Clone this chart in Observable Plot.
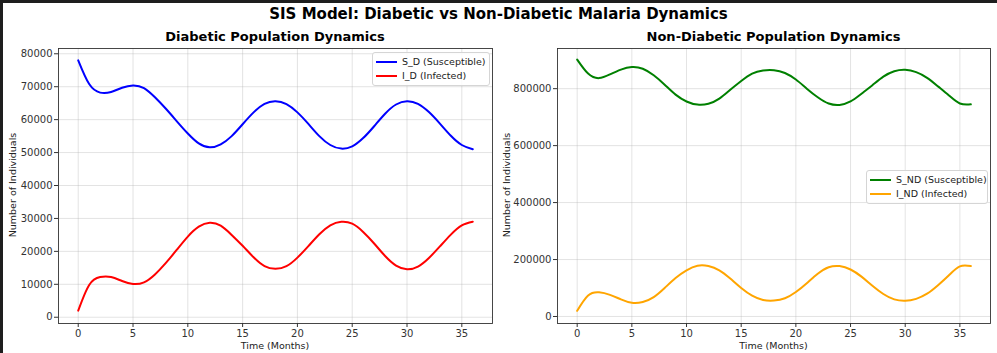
<!DOCTYPE html>
<html><head><meta charset="utf-8">
<script src="https://cdn.jsdelivr.net/npm/d3@7"></script>
<script src="https://cdn.jsdelivr.net/npm/@observablehq/plot@0.6"></script>
<style>
body{margin:0;background:#fff;font-family:"DejaVu Sans",sans-serif;}
#root{position:relative;width:997px;height:353px;overflow:hidden;background:#fff}
.abs{position:absolute;white-space:nowrap}
.suptitle{font-weight:bold;font-size:15px;color:#000;left:0;width:997px;text-align:center;top:5px}
.subtitle{font-weight:bold;font-size:13px;color:#000;text-align:center;top:29px}
.xlab{font-size:9.5px;color:#222;text-align:center;top:340px}
.ylab{font-size:9.5px;color:#222;transform:translate(-50%,-50%) rotate(-90deg)}
.legend{border:1px solid #d5d5d5;border-radius:3px;background:rgba(255,255,255,0.85);font-size:9.5px;color:#222}
.item{position:absolute;height:12px;line-height:12px}
.sw{position:absolute;height:2px;top:5px}
.plotbox{position:absolute;top:25px}
</style></head><body><div id="root"></div>
<script>
const months = [0,1,2,3,4,5,6,7,8,9,10,11,12,13,14,15,16,17,18,19,20,21,22,23,24,25,26,27,28,29,30,31,32,33,34,35,36];
const sD = [78000,70800,68200,68400,69700,70400,69600,66800,63300,59500,55800,52800,51600,52500,55000,58600,62200,64800,65600,64700,62200,58700,55000,52300,51200,51900,54400,58000,61800,64600,65600,64800,62300,58800,55100,52300,51000];
const iD = [2000,9800,12200,12200,11000,10100,10600,13000,16500,20500,24500,27500,28700,27800,25000,21700,18200,15500,14700,15500,18100,21600,25200,27900,29000,28400,25900,22400,18600,15700,14600,15400,18000,21500,25100,27900,29000];
const sND = [902000,853000,837000,850000,867000,876000,870000,847000,814000,779000,755000,744000,747000,765000,796000,827000,853000,864000,865000,855000,832000,800000,770000,748000,743000,755000,782000,812000,842000,861000,866000,858000,838000,808000,776000,748000,745000];
const iND = [20000,74000,85000,76000,60000,48000,51000,68000,100000,135000,162000,178000,177000,162000,133000,100000,73000,58000,56000,64000,86000,117000,150000,173000,177000,165000,140000,108000,79000,60000,55000,62000,80000,110000,145000,176000,177000];
const xTicks = [0,5,10,15,20,25,30,35];
const yTicksD = [0,10000,20000,30000,40000,50000,60000,70000,80000];
const yTicksND = [0,200000,400000,600000,800000];
const suptitle = "SIS Model: Diabetic vs Non-Diabetic Malaria Dynamics";
const titles = ["Diabetic Population Dynamics","Non-Diabetic Population Dynamics"];
const xLabel = "Time (Months)";
const yLabel = "Number of Individuals";
const legendD = ["S_D (Susceptible)","I_D (Infected)"];
const legendND = ["S_ND (Susceptible)","I_ND (Infected)"];

const root = document.getElementById("root");
function addDiv(cls, text, style){
  const d = document.createElement("div");
  d.className = "abs " + cls;
  if (text != null) d.textContent = text;
  Object.assign(d.style, style || {});
  root.appendChild(d);
  return d;
}

function panel(s, i, colors, yDomain, yTicks, left, width, mL, mR){
  const data = months.map((t,k)=>({t, v:s[k]}));
  const data2 = months.map((t,k)=>({t, v:i[k]}));
  const svg = Plot.plot({
    width, height:328,
    marginLeft:mL, marginRight:mR, marginTop:23, marginBottom:30,
    style:{fontFamily:"DejaVu Sans, sans-serif", fontSize:"10px", color:"#333", background:"transparent", overflow:"visible"},
    x:{domain:[-1.8,37.8]},
    y:{domain:yDomain},
    marks:[
      Plot.gridX(xTicks,{stroke:"#b0b0b0", strokeOpacity:0.35}),
      Plot.gridY(yTicks,{stroke:"#b0b0b0", strokeOpacity:0.35}),
      Plot.axisX(xTicks,{tickSize:4, tickPadding:2, label:null, stroke:"#333", fill:"#333"}),
      Plot.axisY(yTicks,{tickSize:4, tickPadding:2, label:null, tickFormat:d=>String(d), stroke:"#333", fill:"#333"}),
      Plot.line(data,{x:"t", y:"v", stroke:colors[0], strokeWidth:2, curve:"natural"}),
      Plot.line(data2,{x:"t", y:"v", stroke:colors[1], strokeWidth:2, curve:"natural"}),
      Plot.frame({stroke:"#333", strokeWidth:0.9})
    ]
  });
  const box = document.createElement("div");
  box.className = "plotbox";
  box.style.left = left + "px";
  box.appendChild(svg);
  root.appendChild(box);
}

panel(sD, iD, ["#0000ff","#ff0000"], [-1900,81600], yTicksD, 0, 497, 58, 5);
panel(sND, iND, ["#008000","#ffa500"], [-24600,941000], yTicksND, 497, 500, 60, 7);

addDiv("suptitle", suptitle);
addDiv("subtitle", titles[0], {left:"58px", width:"434px"});
addDiv("subtitle", titles[1], {left:"557px", width:"433px"});
addDiv("xlab", xLabel, {left:"58px", width:"434px"});
addDiv("xlab", xLabel, {left:"557px", width:"433px"});
addDiv("ylab", yLabel, {left:"12px", top:"185px"});
addDiv("ylab", yLabel, {left:"506px", top:"185px"});

function legend(items, colors, left, top, w){
  const lg = addDiv("legend", null, {left:left+"px", top:top+"px", width:w+"px", height:"32px"});
  items.forEach((txt,k)=>{
    const it = document.createElement("div");
    it.className = "item";
    it.style.top = (3 + k*14) + "px";
    it.style.left = "0px";
    const sw = document.createElement("div");
    sw.className = "sw";
    sw.style.left = "3px"; sw.style.width = "21px"; sw.style.background = colors[k];
    const tx = document.createElement("span");
    tx.style.position = "absolute"; tx.style.left = "29px"; tx.textContent = txt;
    it.appendChild(sw); it.appendChild(tx);
    lg.appendChild(it);
  });
}
legend(legendD, ["#0000ff","#ff0000"], 372, 52, 116);
legend(legendND, ["#008000","#ffa500"], 866, 170, 120);

addDiv("", null, {left:"0px", top:"0px", width:"997px", height:"3px", background:"#1e1e1e"});
addDiv("", null, {left:"0px", top:"0px", width:"3px", height:"353px", background:"#1e1e1e"});
</script></body></html>
